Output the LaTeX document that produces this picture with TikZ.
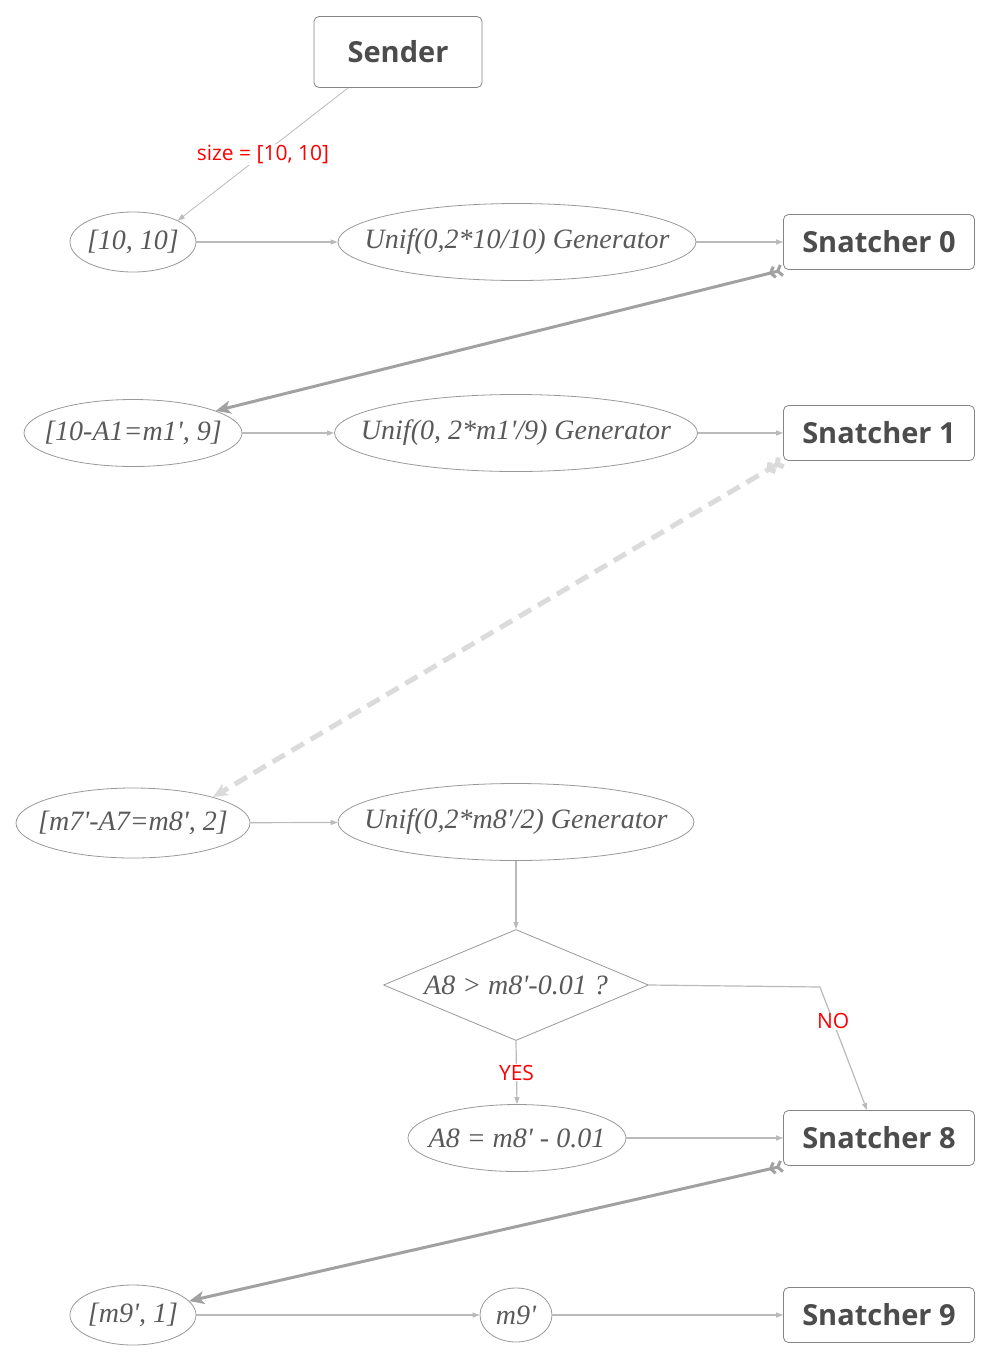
\documentclass[tikz,border=0pt]{standalone}
\usepackage{fontspec}
\setmainfont{Liberation Serif}
\newfontfamily\boxfont{Open Sans}
\usetikzlibrary{shapes.geometric,arrows.meta}
\colorlet{value border color}{black!40}
\colorlet{box border color}{black!48}
\colorlet{flow color}{black!27}
\colorlet{take color}{black!37}
\colorlet{skip color}{black!14}
\colorlet{value text color}{black!65}
\colorlet{box text color}{black!70}
\newcommand{\prm}{\textquotesingle}
\tikzset{
    x={1pt},
    y={-1pt},
    value/.style={
        ellipse, draw=value border color, fill=white,
        line width={0.8pt},
        inner xsep=-60pt, inner ysep=-12pt,
        text=value text color,
        font=\fontsize{28}{32}\selectfont\itshape,
    },
    check/.style={
        value, diamond,
        minimum width={265}, minimum height={111},
    },
    actor/.style={
        rectangle, rounded corners={5pt},
        draw=box border color, fill=white,
        line width={0.8pt},
        minimum width={191}, minimum height={55},
        text=box text color,
        font=\boxfont\bfseries\fontsize{29}{34}\selectfont,
    },
    flow/.style={
        draw=flow color,
        line width={1.2pt},
        -{Triangle[length=7pt,width=5pt]},
    },
    take/.style={
        draw=take color,
        line width={3pt},
        {Straight Barb[reversed,length=4pt,width=11pt]Straight Barb[reversed,length=4pt,width=11pt]}-{Stealth[length=15pt,width=13pt,inset=4pt]},
    },
    skip/.style={
        take,
        draw=skip color,
        line width={5pt},
        dash pattern=on 14pt off 8pt,
    },
    answer/.style={
        fill=white, text=red,
        inner sep=1pt,
        font=\boxfont\fontsize{21}{25}\selectfont,
    },
}

\begin{document}
\begin{tikzpicture}
\useasboundingbox (0,0) rectangle (992,1361);
% actors
\node[actor, minimum width={168}, minimum height={71}] (snd) at (398,52) {Sender};
\node[actor] (s0) at (879,242) {Snatcher 0};
\node[actor] (s1) at (879,433) {Snatcher 1};
\node[actor] (s8) at (879,1138) {Snatcher 8};
\node[actor] (s9) at (879,1315) {Snatcher 9};
% values
\node[value, minimum width={126}, minimum height={60}] (p0) at (133,242) {[10, 10]};
\node[value, minimum width={358}, minimum height={77}] (g0) at (517,242) {Unif(0,2*10/10) Generator};
\node[value, minimum width={218}, minimum height={67}] (p1) at (133,433) {[10-A1=m1\prm, 9]};
\node[value, minimum width={363}, minimum height={77}] (g1) at (516,433) {Unif(0, 2*m1\prm/9) Generator};
\node[value, minimum width={234}, minimum height={70}] (p8) at (133,823) {[m7\prm-A7=m8\prm, 2]};
\node[value, minimum width={356}, minimum height={77}] (g8) at (516,822) {Unif(0,2*m8\prm/2) Generator};
\node[check] (q8) at (516,985) {A8 > m8\prm-0.01 ?};
\node[value, minimum width={218}, minimum height={67}] (a8) at (517,1138) {A8 = m8\prm{} - 0.01};
\node[value, minimum width={126}, minimum height={60}] (p9) at (133,1315) {[m9\prm, 1]};
\node[value, minimum width={72}, minimum height={54}] (g9) at (516,1315) {m9\prm};
\coordinate (bend) at (820,987);
% flows
\path[flow, line width={0.8pt}] ([xshift=-50pt]snd.south) -- node[answer] {size = [10, 10]} (p0.north east);
\path[flow] (p0) -- (g0);
\path[flow] (g0) -- (s0);
\path[flow] (p1) -- (g1);
\path[flow] (g1) -- (s1);
\path[flow] (p8) -- (g8);
\path[flow] (g8) -- (q8);
\path[flow] (q8.south) -- node[answer] {YES} (a8.north);
\path[flow] (q8.east) -- (bend) -- node[answer, pos=0.28] {NO} ([xshift=-12pt]s8.north);
\path[flow] (a8) -- (s8);
\path[flow] (p9) -- (g9);
\path[flow] (g9) -- (s9);
% takes
\path[take] (s0.south west) -- (p1.15);
\path[skip] (s1.south west) -- (p8.18);
\path[take] (s8.south west) -- (p9.14);
\end{tikzpicture}
\end{document}
